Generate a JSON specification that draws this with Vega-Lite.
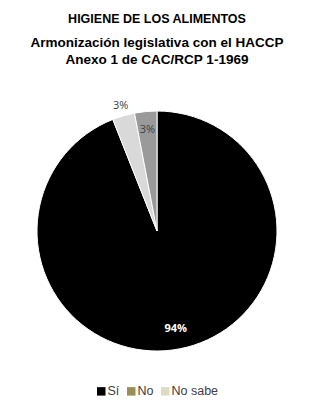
{
  "$schema": "https://vega.github.io/schema/vega-lite/v6.json",
  "width": 306,
  "height": 240,
  "padding": {"left": 4, "right": 0, "top": 12, "bottom": 0},
  "background": "white",
  "config": {
    "legend": {"layout": {"bottom": {"anchor": "middle"}}}
  },
  "title": {
    "text": "HIGIENE DE LOS ALIMENTOS",
    "subtitle": ["Armonización legislativa con el HACCP", "Anexo 1 de CAC/RCP 1-1969"],
    "font": "Liberation Sans",
    "fontSize": 12.5,
    "fontWeight": "bold",
    "color": "#000000",
    "subtitleFont": "Liberation Sans",
    "subtitleFontSize": 13.5,
    "subtitleFontWeight": "bold",
    "subtitleColor": "#000000",
    "subtitlePadding": 11,
    "subtitleLineHeight": 16.5,
    "anchor": "middle",
    "offset": 34
  },
  "data": {
    "values": [
      {"respuesta": "Sí", "porcentaje": 94, "orden": 1, "etiqueta": "94%"},
      {"respuesta": "No", "porcentaje": 3, "orden": 2, "etiqueta": "3%"},
      {"respuesta": "No sabe", "porcentaje": 3, "orden": 3, "etiqueta": "3%"}
    ]
  },
  "encoding": {
    "theta": {"field": "porcentaje", "type": "quantitative", "stack": true},
    "order": {"field": "orden", "type": "quantitative", "sort": "ascending"}
  },
  "layer": [
    {
      "mark": {"type": "arc", "outerRadius": 120, "stroke": "white", "strokeWidth": 1},
      "encoding": {
        "fill": {
          "field": "respuesta", "type": "nominal",
          "scale": {"range": ["#d9d9d9", "#9a9a9a", "#000000"]},
          "legend": null
        }
      }
    },
    {
      "mark": {"type": "arc", "outerRadius": 0, "innerRadius": 0},
      "encoding": {
        "color": {
          "field": "respuesta", "type": "nominal",
          "scale": {"domain": ["Sí", "No", "No sabe"], "range": ["#000000", "#9a8f55", "#dcdcc4"]},
          "legend": {
            "title": null,
            "orient": "bottom",
            "direction": "horizontal",
            "symbolType": "square",
            "symbolSize": 72,
            "symbolOpacity": 1,
            "symbolStrokeWidth": 0,
            "labelFont": "Liberation Sans",
            "labelFontSize": 12.5,
            "labelColor": "#404040",
            "labelOffset": 0,
            "columnPadding": 5,
            "offset": 34
          }
        }
      }
    },
    {
      "mark": {
        "type": "text",
        "radius": {"expr": "datum.respuesta === 'Sí' ? 100 : (datum.respuesta === 'No' ? 130 : 101)"},
        "font": "Open Sans",
        "fontSize": 11,
        "fontWeight": {"expr": "datum.respuesta === 'Sí' ? 'bold' : 'normal'"}
      },
      "encoding": {
        "text": {"field": "etiqueta"},
        "color": {"condition": {"test": "datum.respuesta === 'Sí'", "value": "white"}, "value": "#404040"}
      }
    }
  ]
}
